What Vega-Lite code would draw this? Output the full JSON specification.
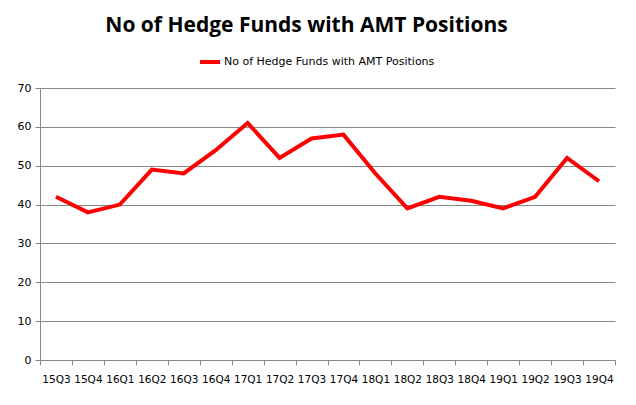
{
  "$schema": "https://vega.github.io/schema/vega-lite/v6.json",
  "autosize": {"type": "none"},
  "width": 575,
  "height": 272,
  "padding": {"left": 40, "top": 88, "right": 21, "bottom": 45},
  "background": "white",
  "title": {
    "text": "No of Hedge Funds with AMT Positions",
    "font": "Open Sans",
    "fontSize": 21,
    "fontWeight": "bold",
    "color": "#000000",
    "anchor": "middle",
    "dx": -21,
    "offset": 14
  },
  "data": {
    "values": [
      {"q": "15Q3", "v": 42}, {"q": "15Q4", "v": 38}, {"q": "16Q1", "v": 40},
      {"q": "16Q2", "v": 49}, {"q": "16Q3", "v": 48}, {"q": "16Q4", "v": 54},
      {"q": "17Q1", "v": 61}, {"q": "17Q2", "v": 52}, {"q": "17Q3", "v": 57},
      {"q": "17Q4", "v": 58}, {"q": "18Q1", "v": 48}, {"q": "18Q2", "v": 39},
      {"q": "18Q3", "v": 42}, {"q": "18Q4", "v": 41}, {"q": "19Q1", "v": 39},
      {"q": "19Q2", "v": 42}, {"q": "19Q3", "v": 52}, {"q": "19Q4", "v": 46}
    ]
  },
  "mark": {"type": "line", "strokeWidth": 4, "strokeJoin": "miter"},
  "encoding": {
    "x": {
      "field": "q", "type": "ordinal", "sort": null,
      "bandPosition": 0.5,
      "scale": {"type": "band", "paddingInner": 0, "paddingOuter": 0},
      "axis": {
        "title": null, "labelAngle": 0, "tickBand": "extent",
        "domainColor": "#888888", "tickColor": "#888888", "tickSize": 5,
        "labelFont": "DejaVu Sans", "labelFontSize": 10.5, "labelColor": "#000000",
        "labelPadding": 9, "grid": false
      }
    },
    "y": {
      "field": "v", "type": "quantitative",
      "scale": {"domain": [0, 70]},
      "axis": {
        "title": null, "values": [0, 10, 20, 30, 40, 50, 60, 70],
        "domainColor": "#888888", "tickColor": "#888888", "tickSize": 5,
        "gridColor": "#888888", "gridWidth": 1,
        "labelFont": "DejaVu Sans", "labelFontSize": 11, "labelColor": "#000000",
        "labelPadding": 4
      }
    },
    "color": {
      "datum": "No of Hedge Funds with AMT Positions",
      "type": "nominal",
      "scale": {"range": ["#FF0000"]},
      "legend": {
        "title": null, "orient": "none", "legendX": 158, "legendY": -38,
        "symbolType": "stroke", "symbolStrokeWidth": 4, "symbolSize": 400,
        "labelFont": "DejaVu Sans", "labelFontSize": 11, "labelColor": "#000000",
        "labelOffset": 2, "labelLimit": 400
      }
    }
  },
  "config": {"view": {"stroke": null}}
}
